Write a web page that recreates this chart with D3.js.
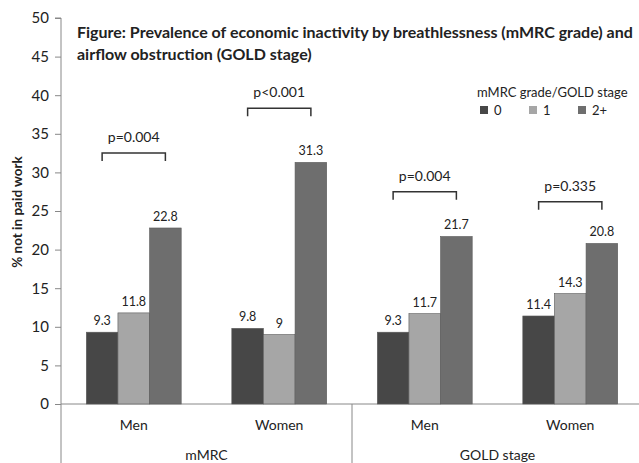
<!DOCTYPE html>
<html>
<head>
<meta charset="utf-8">
<script src="https://cdn.jsdelivr.net/npm/d3@7"></script>
<style>
  body { margin: 0; background: #fff; }
  svg text { font-family: Lato, "Open Sans", sans-serif; fill: #222; }
</style>
</head>
<body>
<svg width="639" height="463"></svg>
<script>
const width = 639;
const height = 463;

// chart data
const groups = ["mMRC", "GOLD stage"];
const categories = ["Men", "Women"];
const grades = ["0", "1", "2+"];
const mmrcValues = [[9.3, 11.8, 22.8], [9.8, 9, 31.3]];
const goldValues = [[9.3, 11.7, 21.7], [11.4, 14.3, 20.8]];
const pLabels = ["p=0.004", "p<0.001", "p=0.004", "p=0.335"];
const bracketLevels = [32.5, 38.3, 27.5, 26.2];
const yTicks = [0, 5, 10, 15, 20, 25, 30, 35, 40, 45, 50];
const colors = ["#474747", "#a6a6a6", "#6e6e6e"];

const svg = d3.select('svg');

// scales
const yScale = d3.scaleLinear().domain([0, 50]).range([404, 18]);
const x0 = d3.scaleBand().domain(groups).range([61, 643]);
const x1 = d3.scaleBand().domain(categories).range([0, x0.bandwidth()]);
const x2 = d3.scaleBand().domain(grades).range([0, x1.bandwidth()]).paddingInner(0).paddingOuter(0.8);

// y axis
const yAxis = d3.axisLeft(yScale).tickValues(yTicks).tickSize(6).tickPadding(6);
const yg = svg.append('g').attr('transform', 'translate(61,0)').call(yAxis);
yg.selectAll('path, line').attr('stroke', '#888');
yg.select('.domain').attr('d', `M-6,${yScale(50)}H0V${yScale(0)}`);
yg.selectAll('text').style('font-size', '15px').attr('fill', '#333');

svg.append('text')
    .attr('transform', `translate(22,212) rotate(-90)`)
    .attr('text-anchor', 'middle')
    .style('font-size', '13.5px')
    .style('font-weight', 'bold')
    .attr('fill', '#111')
    .text('% not in paid work');

// x axis line and group separators
svg.append('line')
    .attr('x1', 61).attr('x2', width).attr('y1', yScale(0)).attr('y2', yScale(0))
    .attr('stroke', '#888');
groups.forEach(g => {
    svg.append('line')
        .attr('x1', x0(g)).attr('x2', x0(g)).attr('y1', yScale(0)).attr('y2', height)
        .attr('stroke', '#888');
});

const allValues = [mmrcValues, goldValues];
let k = 0;
groups.forEach((g, gi) => {
    const gg = svg.append('g').attr('transform', `translate(${x0(g)},0)`);
    gg.append('text')
        .attr('x', x0.bandwidth() / 2).attr('y', 460)
        .attr('text-anchor', 'middle')
        .style('font-size', '14px')
        .text(g);
    categories.forEach((c, ci) => {
        const cg = gg.append('g').attr('transform', `translate(${x1(c)},0)`);
        const vals = allValues[gi][ci];
        cg.selectAll('rect')
            .data(vals)
            .enter().append('rect')
            .attr('x', (d, i) => x2(grades[i]))
            .attr('y', d => yScale(d))
            .attr('width', x2.bandwidth())
            .attr('height', d => yScale(0) - yScale(d))
            .attr('fill', (d, i) => colors[i])
            .attr('stroke', '#5a5a5a')
            .attr('stroke-width', 0.6);
        cg.selectAll('.val')
            .data(vals)
            .enter().append('text')
            .attr('class', 'val')
            .attr('x', (d, i) => x2(grades[i]) + x2.bandwidth() / 2)
            .attr('y', d => yScale(d) - 7)
            .attr('text-anchor', 'middle')
            .style('font-size', '12.5px')
            .text(d => d);
        cg.append('text')
            .attr('x', x1.bandwidth() / 2).attr('y', 430)
            .attr('text-anchor', 'middle')
            .style('font-size', '14px')
            .text(c);

        // p-value bracket
        const bx1 = x2(grades[0]) + x2.bandwidth() / 2;
        const bx2 = x2(grades[2]) + x2.bandwidth() / 2;
        const by = yScale(bracketLevels[k]);
        cg.append('path')
            .attr('d', `M${bx1},${by + 8}V${by}H${bx2}V${by + 8}`)
            .attr('fill', 'none')
            .attr('stroke', '#333')
            .attr('stroke-width', 1.5);
        cg.append('text')
            .attr('x', (bx1 + bx2) / 2).attr('y', by - 11)
            .attr('text-anchor', 'middle')
            .style('font-size', '14px')
            .text(pLabels[k]);
        k++;
    });
});

// title
const title = svg.append('text')
    .attr('x', 77).attr('y', 38)
    .style('font-size', '16px')
    .style('font-weight', 'bold')
    .attr('fill', '#111');
title.append('tspan').attr('x', 77).attr('y', 38)
    .text('Figure: Prevalence of economic inactivity by breathlessness (mMRC grade) and');
title.append('tspan').attr('x', 77).attr('y', 60)
    .text('airflow obstruction (GOLD stage)');

// legend
const legend = svg.append('g');
legend.append('text')
    .attr('x', 477).attr('y', 97)
    .style('font-size', '13px')
    .text('mMRC grade/GOLD stage');
grades.forEach((g, i) => {
    legend.append('rect')
        .attr('x', 480 + i * 49).attr('y', 106)
        .attr('width', 8).attr('height', 8)
        .attr('fill', colors[i]);
    legend.append('text')
        .attr('x', 494 + i * 49).attr('y', 115)
        .style('font-size', '13px')
        .text(g);
});
</script>
</body>
</html>
